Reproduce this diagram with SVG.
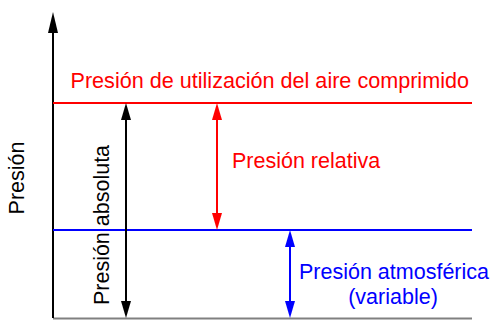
<svg xmlns="http://www.w3.org/2000/svg" width="492" height="320" viewBox="0 0 492 320">
<style>
text{font-family:"Liberation Sans",Arial,sans-serif;font-size:21.5px}
.r{fill:#ff0000}.b{fill:#0000ff}.k{fill:#000}
</style>
<rect width="492" height="320" fill="#fff"/>
<g id="connectors" stroke-width="2" fill="none">
<line x1="53" y1="318.5" x2="472" y2="318.5" stroke="#808080"/>
<line x1="53" y1="318" x2="53" y2="28" stroke="#000"/>
<polygon points="53,12 48,33 58,33" fill="#000" stroke="none"/>
<line x1="53" y1="103" x2="472" y2="103" stroke="#ff0000"/>
<line x1="53" y1="230" x2="472" y2="230" stroke="#0000ff"/>
<line x1="126" y1="115" x2="126" y2="306" stroke="#000"/>
<polygon points="126,103 121,120 131,120" fill="#000" stroke="none"/>
<polygon points="126,318 121,301 131,301" fill="#000" stroke="none"/>
<line x1="217" y1="115" x2="217" y2="218" stroke="#ff0000"/>
<polygon points="217,103 212,120 222,120" fill="#ff0000" stroke="none"/>
<polygon points="217,230 212,213 222,213" fill="#ff0000" stroke="none"/>
<line x1="290" y1="242" x2="290" y2="306" stroke="#0000ff"/>
<polygon points="290,230 285,247 295,247" fill="#0000ff" stroke="none"/>
<polygon points="290,318 285,301 295,301" fill="#0000ff" stroke="none"/>
</g>
<g id="axis-label"><text class="k" transform="translate(24,178) rotate(-90)" text-anchor="middle">Presión</text></g>
<g id="utilizacion"><text class="r" x="70.5" y="88" style="font-size:21.6px">Presión de utilización del aire comprimido</text></g>
<g id="absoluta"><text class="k" transform="translate(109,225) rotate(-90)" text-anchor="middle">Presión absoluta</text></g>
<g id="relativa"><text class="r" x="232" y="168">Presión relativa</text></g>
<g id="atmosferica"><text class="b" x="394" y="279" text-anchor="middle">Presión atmosférica</text><text class="b" x="393" y="304" text-anchor="middle">(variable)</text></g>
</svg>
